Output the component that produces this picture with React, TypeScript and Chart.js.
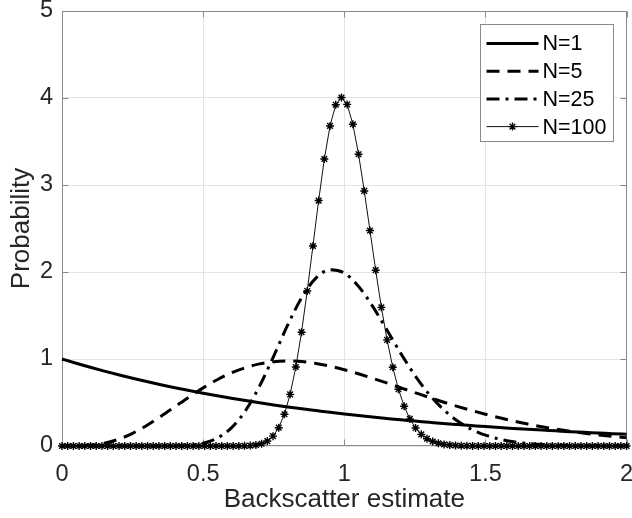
import React, { useEffect, useRef } from 'react';
import { Chart, registerables } from 'chart.js';

Chart.register(...registerables);

// ---------- data ----------
const xCoarse = [0, 0.05, 0.1, 0.15, 0.2, 0.25, 0.3, 0.35, 0.4, 0.45, 0.5, 0.55, 0.6, 0.65, 0.7, 0.75, 0.8, 0.85, 0.9, 0.95, 1, 1.05, 1.1, 1.15, 1.2, 1.25, 1.3, 1.35, 1.4, 1.45, 1.5, 1.55, 1.6, 1.65, 1.7, 1.75, 1.8, 1.85, 1.9, 1.95, 2];

const n1 = [1.0, 0.951, 0.905, 0.861, 0.819, 0.779, 0.741, 0.705, 0.67, 0.638, 0.607, 0.577, 0.549, 0.522, 0.497, 0.472, 0.449, 0.427, 0.407, 0.387, 0.368, 0.35, 0.333, 0.317, 0.301, 0.287, 0.273, 0.259, 0.247, 0.235, 0.223, 0.212, 0.202, 0.192, 0.183, 0.174, 0.165, 0.157, 0.15, 0.142, 0.135];

const n5 = [0, 0.001, 0.008, 0.031, 0.077, 0.146, 0.235, 0.34, 0.451, 0.563, 0.668, 0.762, 0.84, 0.901, 0.944, 0.969, 0.977, 0.97, 0.949, 0.918, 0.877, 0.831, 0.779, 0.725, 0.669, 0.614, 0.559, 0.506, 0.456, 0.409, 0.365, 0.324, 0.286, 0.252, 0.221, 0.194, 0.169, 0.147, 0.127, 0.11, 0.095];

const n25 = [0, 0, 0, 0, 0, 0, 0, 0.0003, 0.002, 0.009, 0.032, 0.09, 0.208, 0.406, 0.689, 1.033, 1.394, 1.71, 1.932, 2.026, 1.988, 1.837, 1.607, 1.339, 1.065, 0.813, 0.597, 0.423, 0.29, 0.193, 0.125, 0.079, 0.048, 0.029, 0.017, 0.01, 0.006, 0.003, 0.002, 0.001, 0.0005];

const xFine = [0, 0.0202, 0.0404, 0.0606, 0.0808, 0.101, 0.1212, 0.1414, 0.1616, 0.1818, 0.202, 0.2222, 0.2424, 0.2626, 0.2828, 0.303, 0.3232, 0.3434, 0.3636, 0.3838, 0.404, 0.4242, 0.4444, 0.4646, 0.4848, 0.5051, 0.5253, 0.5455, 0.5657, 0.5859, 0.6061, 0.6263, 0.6465, 0.6667, 0.6869, 0.7071, 0.7273, 0.7475, 0.7677, 0.7879, 0.8081, 0.8283, 0.8485, 0.8687, 0.8889, 0.9091, 0.9293, 0.9495, 0.9697, 0.9899, 1.0101, 1.0303, 1.0505, 1.0707, 1.0909, 1.1111, 1.1313, 1.1515, 1.1717, 1.1919, 1.2121, 1.2323, 1.2525, 1.2727, 1.2929, 1.3131, 1.3333, 1.3535, 1.3737, 1.3939, 1.4141, 1.4343, 1.4545, 1.4747, 1.4949, 1.5152, 1.5354, 1.5556, 1.5758, 1.596, 1.6162, 1.6364, 1.6566, 1.6768, 1.697, 1.7172, 1.7374, 1.7576, 1.7778, 1.798, 1.8182, 1.8384, 1.8586, 1.8788, 1.899, 1.9192, 1.9394, 1.9596, 1.9798, 2.0];

const n100 = [0, 0, 0, 0, 0, 0, 0, 0, 0, 0, 0, 0, 0, 0, 0, 0, 0, 0, 0, 0, 0, 0, 0, 0, 0, 0, 0, 0, 0, 0,
  0.0002, 0.0005, 0.0016, 0.0044, 0.0112, 0.0263, 0.0567, 0.1132, 0.2105, 0.3652, 0.5939, 0.9077, 1.3081, 1.7821, 2.2986, 2.821, 3.2991, 3.679, 3.9229, 4.006, 3.9265, 3.6987, 3.354, 2.9318, 2.4765, 2.0209, 1.5938, 1.2193, 0.9047, 0.6518, 0.4565, 0.311, 0.2064, 0.1337, 0.0841, 0.0518, 0.0312, 0.0183, 0.0105, 0.0059, 0.0033, 0.0018, 0.0009, 0.0005, 0.0003, 0.0001,
  0, 0, 0, 0, 0, 0, 0, 0, 0, 0, 0, 0, 0, 0, 0, 0, 0, 0, 0, 0, 0, 0, 0, 0];

const xTicks = [0, 0.5, 1, 1.5, 2];
const yTicks = [0, 1, 2, 3, 4, 5];
const seriesLabels = ['N=1', 'N=5', 'N=25', 'N=100'];
const xTitle = 'Backscatter estimate';
const yTitle = 'Probability';

const FONT = '"Liberation Sans", Arial, Helvetica, sans-serif';
const AXIS_COLOR = '#8a8a8a';
const TEXT_COLOR = '#262626';
const GRID_COLOR = '#e4e4e4';

const toPts = (xs: number[], ys: number[]) => xs.map((x, i) => ({ x, y: ys[i] }));

function drawStar(ctx: CanvasRenderingContext2D, x: number, y: number, r: number) {
  ctx.beginPath();
  for (let k = 0; k < 4; k++) {
    const a = (k * Math.PI) / 4;
    ctx.moveTo(x - r * Math.cos(a), y - r * Math.sin(a));
    ctx.lineTo(x + r * Math.cos(a), y + r * Math.sin(a));
  }
  ctx.stroke();
}

const framePlugin = {
  id: 'frame',
  beforeDatasetsDraw(chart: any) {
    const { ctx, chartArea, scales } = chart;
    const { left, right, top, bottom } = chartArea;
    const L = Math.round(left) + 0.5;
    const R = Math.round(right) - 0.5;
    const T = Math.round(top) + 0.5;
    const B = Math.round(bottom) - 0.5;
    ctx.save();
    ctx.strokeStyle = AXIS_COLOR;
    ctx.lineWidth = 1;
    ctx.strokeRect(L, T, R - L, B - T);
    const tl = 6;
    ctx.beginPath();
    xTicks.forEach((v) => {
      const px = Math.round(scales.x.getPixelForValue(v)) + 0.5;
      ctx.moveTo(px, B);
      ctx.lineTo(px, B - tl);
      ctx.moveTo(px, T);
      ctx.lineTo(px, T + tl);
    });
    yTicks.forEach((v) => {
      const py = Math.round(scales.y.getPixelForValue(v)) + 0.5;
      ctx.moveTo(L, py);
      ctx.lineTo(L + tl, py);
      ctx.moveTo(R, py);
      ctx.lineTo(R - tl, py);
    });
    ctx.stroke();
    ctx.restore();
  },
};

const legendPlugin = {
  id: 'customLegend',
  afterDraw(chart: any) {
    const { ctx, chartArea } = chart;
    const w = 133;
    const h = 117;
    const x0 = Math.round(chartArea.right - 14 - w) + 0.5;
    const y0 = Math.round(chartArea.top + 13) + 0.5;
    ctx.save();
    ctx.fillStyle = '#ffffff';
    ctx.fillRect(x0, y0, w, h);
    ctx.strokeStyle = AXIS_COLOR;
    ctx.lineWidth = 1;
    ctx.strokeRect(x0, y0, w, h);
    chart.data.datasets.forEach((ds: any, i: number) => {
      const yy = y0 + 19 + i * 27.7;
      const lx0 = x0 + 6;
      const lx1 = x0 + 58;
      ctx.save();
      ctx.strokeStyle = ds.borderColor;
      ctx.lineWidth = ds.borderWidth;
      ctx.setLineDash(ds.borderDash || []);
      ctx.lineCap = 'butt';
      ctx.beginPath();
      ctx.moveTo(lx0, yy);
      ctx.lineTo(lx1, yy);
      ctx.stroke();
      ctx.restore();
      if (ds.pointRadius > 0) {
        ctx.save();
        ctx.strokeStyle = ds.pointBorderColor;
        ctx.lineWidth = 1.3;
        drawStar(ctx, (lx0 + lx1) / 2, yy, ds.pointRadius);
        ctx.restore();
      }
      ctx.fillStyle = '#000000';
      ctx.font = `21.5px ${FONT}`;
      ctx.textAlign = 'left';
      ctx.textBaseline = 'middle';
      ctx.fillText(ds.label, x0 + 62, yy + 1);
    });
    ctx.restore();
  },
};

export default function App() {
  const ref = useRef<HTMLCanvasElement | null>(null);

  useEffect(() => {
    if (!ref.current) return;
    const chart = new Chart(ref.current, {
      type: 'line',
      data: {
        datasets: [
          {
            label: seriesLabels[0],
            data: toPts(xCoarse, n1),
            borderColor: '#000000',
            borderWidth: 3,
            pointRadius: 0,
            cubicInterpolationMode: 'monotone',
            borderDash: [],
            clip: false,
          },
          {
            label: seriesLabels[1],
            data: toPts(xCoarse, n5),
            borderColor: '#000000',
            borderWidth: 3,
            pointRadius: 0,
            cubicInterpolationMode: 'monotone',
            borderDash: [13, 8],
            clip: false,
          },
          {
            label: seriesLabels[2],
            data: toPts(xCoarse, n25),
            borderColor: '#000000',
            borderWidth: 3,
            pointRadius: 0,
            cubicInterpolationMode: 'monotone',
            borderDash: [13, 6, 3, 6],
            clip: false,
          },
          {
            label: seriesLabels[3],
            data: toPts(xFine, n100),
            borderColor: '#111111',
            borderWidth: 1,
            pointStyle: 'star',
            pointRadius: 4,
            pointBorderColor: '#000000',
            pointBackgroundColor: '#000000',
            pointBorderWidth: 1.4,
            borderDash: [],
            clip: false,
          },
        ] as any,
      },
      options: {
        animation: false,
        responsive: false,
        maintainAspectRatio: false,
        devicePixelRatio: 1,
        layout: { padding: { top: 11, right: 2, left: 0, bottom: 0 } },
        plugins: { legend: { display: false }, tooltip: { enabled: false } },
        elements: { line: { tension: 0 } },
        scales: {
          x: {
            type: 'linear',
            min: 0,
            max: 2,
            afterBuildTicks: (s: any) => {
              s.ticks = xTicks.map((v) => ({ value: v }));
            },
            afterFit: (s: any) => {
              s.height = 72;
              s.paddingLeft = 0;
              s.paddingRight = 0;
            },
            ticks: {
              font: { family: FONT, size: 23.5 },
              color: TEXT_COLOR,
              padding: 14,
              maxRotation: 0,
              autoSkip: false,
              callback: (v: any) => String(v),
            },
            grid: { color: GRID_COLOR, drawTicks: false, lineWidth: 1 },
            border: { display: false },
            title: {
              display: true,
              text: xTitle,
              font: { family: FONT, size: 26 },
              color: TEXT_COLOR,
              padding: { top: 0, bottom: 2.5 },
            },
          },
          y: {
            type: 'linear',
            min: 0,
            max: 5,
            afterBuildTicks: (s: any) => {
              s.ticks = yTicks.map((v) => ({ value: v }));
            },
            afterFit: (s: any) => {
              s.width = 62;
              s.paddingTop = 0;
              s.paddingBottom = 0;
            },
            ticks: {
              font: { family: FONT, size: 23.5 },
              color: TEXT_COLOR,
              padding: 9,
              autoSkip: false,
              callback: (v: any) => String(v),
            },
            grid: { color: GRID_COLOR, drawTicks: false, lineWidth: 1 },
            border: { display: false },
            title: {
              display: true,
              text: yTitle,
              font: { family: FONT, size: 26 },
              color: TEXT_COLOR,
              padding: { top: 6, bottom: 0 },
            },
          },
        },
      } as any,
      plugins: [framePlugin, legendPlugin],
    });
    return () => chart.destroy();
  }, []);

  return (
    <div style={{ position: 'absolute', left: 0, top: 0, width: 632, height: 518, background: '#fff' }}>
      <canvas ref={ref} width={632} height={518} style={{ display: 'block', width: 632, height: 518 }} />
    </div>
  );
}
